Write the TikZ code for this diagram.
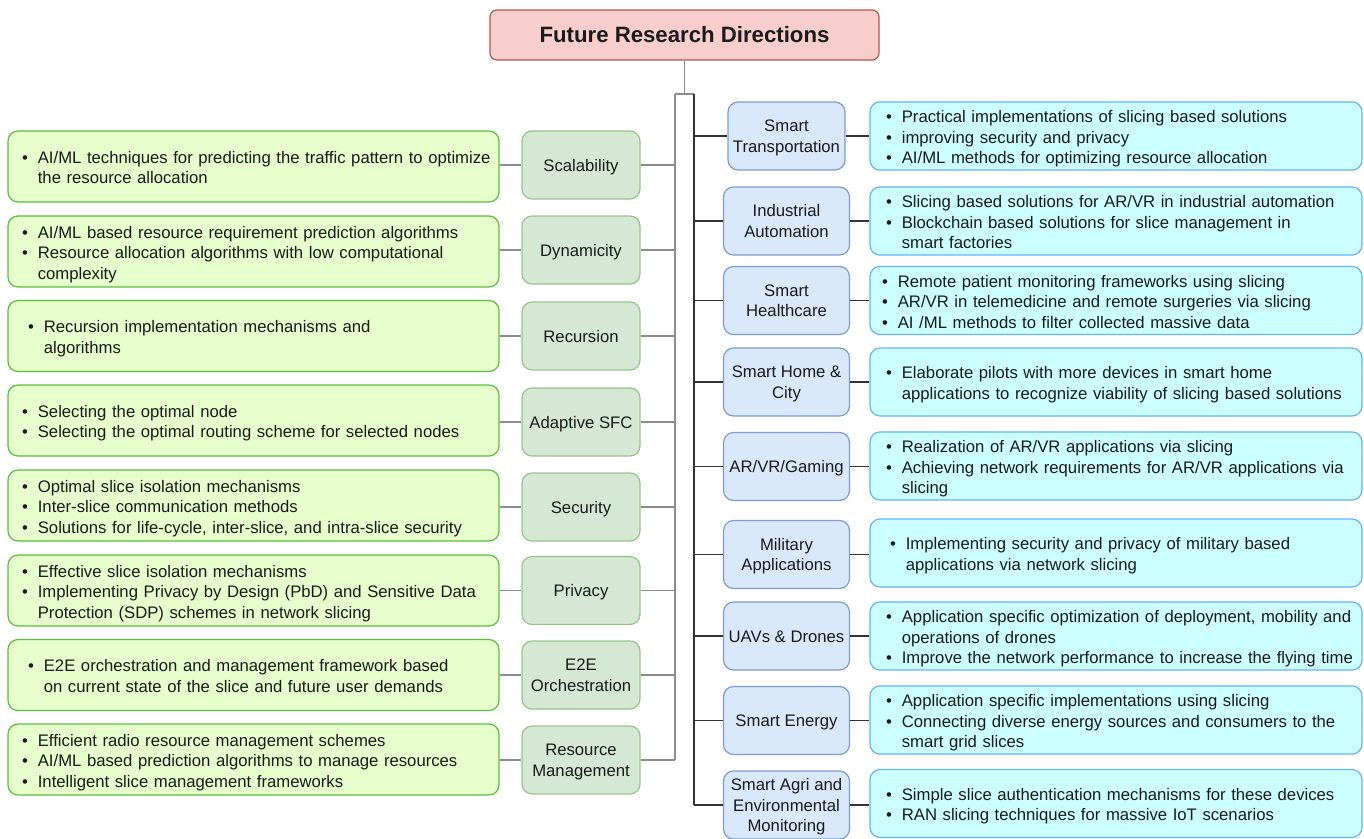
\documentclass[tikz,border=0pt]{standalone}
\usepackage{fontspec}
\setmainfont{Liberation Sans}
\definecolor{ttlfill}{HTML}{F8CECC}
\definecolor{ttldraw}{HTML}{B85450}
\definecolor{lcatfill}{HTML}{D5E8D4}
\definecolor{lcatdraw}{HTML}{98C48A}
\definecolor{ldetfill}{HTML}{E6FFCC}
\definecolor{ldetdraw}{HTML}{5CBF3C}
\definecolor{rcatfill}{HTML}{DAE8FC}
\definecolor{rcatdraw}{HTML}{7C9CCF}
\definecolor{rdetfill}{HTML}{CCFFFF}
\definecolor{rdetdraw}{HTML}{66B2FF}
\definecolor{txt}{HTML}{1A1A1A}
\newcommand\blist[1]{\raisebox{-3pt}[\height][\depth]{\begin{tabular}{@{}l@{\hspace{10pt}}l@{}}#1\end{tabular}}}
\newcommand\ctext[1]{\raisebox{-2pt}[\height][\depth]{\begin{tabular}{@{}c@{}}#1\end{tabular}}}
\begin{document}
\begin{tikzpicture}[x=1pt,y=-1pt,
  base/.style={line width=1.2pt, text=txt, font=\fontsize{16.7}{20.5}\selectfont},
  ttl/.style={base, draw=ttldraw, fill=ttlfill, rounded corners=7pt, minimum width=389pt, minimum height=50pt, font=\fontsize{22.2}{24}\selectfont\bfseries},
  lcat/.style={base, draw=lcatdraw, fill=lcatfill, rounded corners=10pt, minimum width=118pt, minimum height=68pt, inner sep=2pt},
  ldet/.style={base, draw=ldetdraw, fill=ldetfill, rounded corners=10pt, minimum width=491pt, minimum height=71pt, text width=463pt, inner xsep=14pt, align=left},
  rcat/.style={base, draw=rcatdraw, fill=rcatfill, rounded corners=10pt, minimum width=126pt, minimum height=68pt, inner sep=2pt},
  rdet/.style={base, draw=rdetdraw, fill=rdetfill, rounded corners=10pt, minimum width=492pt, minimum height=68pt, text width=460pt, inner xsep=16pt, align=left},
  gline/.style={draw=gray!90, line width=1.2pt},
  dline/.style={draw=black!80, line width=1.2pt}
]
\useasboundingbox (0,0) rectangle (1364,838);

% title
\node[ttl] (title) at (684.5,35) {Future Research Directions};

% left categories
\node[lcat] (scal) at (581,165) {\ctext{Scalability}};
\node[lcat] (dyn) at (581,250) {\ctext{Dynamicity}};
\node[lcat] (rec) at (581,336) {\ctext{Recursion}};
\node[lcat] (sfc) at (581,422) {\ctext{Adaptive SFC}};
\node[lcat] (sec) at (581,507) {\ctext{Security}};
\node[lcat] (pri) at (581,590.5) {\ctext{Privacy}};
\node[lcat] (e2e) at (581,675) {\ctext{E2E\\Orchestration}};
\node[lcat] (res) at (581,760) {\ctext{Resource\\Management}};

% left details
\node[ldet] (dscal) at (253.5,166.5) {\blist{• & AI/ML techniques for predicting the traffic pattern to optimize\\ & the resource allocation}};
\node[ldet] (ddyn) at (253.5,251.5) {\blist{• & AI/ML based resource requirement prediction algorithms\\ • & Resource allocation algorithms with low computational\\ & complexity}};
\node[ldet] (drec) at (253.5,336) {\hspace*{6pt}\blist{• & Recursion implementation mechanisms and\\ & algorithms}};
\node[ldet] (dsfc) at (253.5,420.5) {\blist{• & Selecting the optimal node\\ • & Selecting the optimal routing scheme for selected nodes}};
\node[ldet] (dsec) at (253.5,505.5) {\blist{• & Optimal slice isolation mechanisms\\ • & Inter-slice communication methods\\ • & Solutions for life-cycle, inter-slice, and intra-slice security}};
\node[ldet] (dpri) at (253.5,590.5) {\blist{• & Effective slice isolation mechanisms\\ • & Implementing Privacy by Design (PbD) and Sensitive Data\\ & Protection (SDP) schemes in network slicing}};
\node[ldet] (de2e) at (253.5,675) {\hspace*{6pt}\blist{• & E2E orchestration and management framework based\\ & on current state of the slice and future user demands}};
\node[ldet] (dres) at (253.5,759.5) {\blist{• & Efficient radio resource management schemes\\ • & AI/ML based prediction algorithms to manage resources\\ • & Intelligent slice management frameworks}};

% right categories
\node[rcat, minimum width=117pt] (st) at (786.5,136) {\ctext{Smart\\Transportation}};
\node[rcat] (ia) at (786.5,221) {\ctext{Industrial\\Automation}};
\node[rcat] (sh) at (786.5,300.5) {\ctext{Smart\\Healthcare}};
\node[rcat] (shc) at (786.5,382) {\ctext{Smart Home \&\\City}};
\node[rcat] (ar) at (786.5,466.5) {\ctext{AR/VR/Gaming}};
\node[rcat] (mil) at (786.5,554.5) {\ctext{Military\\Applications}};
\node[rcat] (uav) at (786.5,636) {\ctext{UAVs \& Drones}};
\node[rcat] (se) at (786.5,720.5) {\ctext{Smart Energy}};
\node[rcat] (sa) at (786.5,805) {\ctext{Smart Agri and\\Environmental\\Monitoring}};

% right details
\node[rdet] (dst) at (1116,136) {\blist{• & Practical implementations of slicing based solutions\\ • & improving security and privacy\\ • & AI/ML methods for optimizing resource allocation}};
\node[rdet] (dia) at (1116,221) {\blist{• & Slicing based solutions for AR/VR in industrial automation\\ • & Blockchain based solutions for slice management in\\ & smart factories}};
\node[rdet] (dsh) at (1116,300.5) {\hspace*{-4pt}\blist{• & Remote patient monitoring frameworks using slicing\\ • & AR/VR in telemedicine and remote surgeries via slicing\\ • & AI /ML methods to filter collected massive data}};
\node[rdet] (dshc) at (1116,382) {\blist{• & Elaborate pilots with more devices in smart home\\ & applications to recognize viability of slicing based solutions}};
\node[rdet] (dar) at (1116,466) {\blist{• & Realization of AR/VR applications via slicing\\ • & Achieving network requirements for AR/VR applications via\\ & slicing}};
\node[rdet] (dmil) at (1116,553) {\hspace*{4pt}\blist{• & Implementing security and privacy of military based\\ & applications via network slicing}};
\node[rdet] (duav) at (1116,636) {\blist{• & Application specific optimization of deployment, mobility and\\ & operations of drones\\ • & Improve the network performance to increase the flying time}};
\node[rdet] (dse) at (1116,720) {\blist{• & Application specific implementations using slicing\\ • & Connecting diverse energy sources and consumers to the\\ & smart grid slices}};
\node[rdet] (dsa) at (1116,803.5) {\blist{• & Simple slice authentication mechanisms for these devices\\ • & RAN slicing techniques for massive IoT scenarios}};

% trunk
\coordinate (T) at (684.5,94);
\coordinate (LT) at (675,94);
\coordinate (RT) at (694,94);
\draw[gline] (title.south) -- (T);
\draw[gline] (LT) -- (RT);
\draw[gline] (LT) -- (LT |- res.east);
\draw[dline] (RT) -- (RT |- sa.west);

% left links
\foreach \c/\d in {scal/dscal, dyn/ddyn, rec/drec, sfc/dsfc, sec/dsec, pri/dpri, e2e/de2e, res/dres} {
  \draw[gline] (\c.east) -- (\c.east -| LT);
  \draw[gline] (\d.east |- \c.west) -- (\c.west);
}
% right links
\foreach \c/\d in {st/dst, ia/dia, sh/dsh, shc/dshc, ar/dar, mil/dmil, uav/duav, se/dse, sa/dsa} {
  \draw[dline] (RT |- \c.west) -- (\c.west);
  \draw[dline] (\c.east) -- (\c.east -| \d.west);
}
\end{tikzpicture}
\end{document}
